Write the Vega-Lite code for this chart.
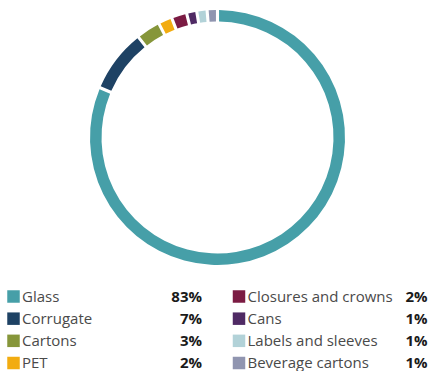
{
  "$schema": "https://vega.github.io/schema/vega-lite/v6.json",
  "padding": 0,
  "spacing": 0,
  "background": "white",
  "config": {"view": {"stroke": null}, "font": "Open Sans"},
  "datasets": {
    "pack": [
      {"idx": 1, "material": "Glass", "share": 81.4, "pct": "83%", "col": 0, "row": 0},
      {"idx": 2, "material": "Corrugate", "share": 8.0, "pct": "7%", "col": 0, "row": 1},
      {"idx": 3, "material": "Cartons", "share": 3.05, "pct": "3%", "col": 0, "row": 2},
      {"idx": 4, "material": "PET", "share": 1.75, "pct": "2%", "col": 0, "row": 3},
      {"idx": 5, "material": "Closures and crowns", "share": 1.94, "pct": "2%", "col": 1, "row": 0},
      {"idx": 6, "material": "Cans", "share": 1.28, "pct": "1%", "col": 1, "row": 1},
      {"idx": 7, "material": "Labels and sleeves", "share": 1.3, "pct": "1%", "col": 1, "row": 2},
      {"idx": 8, "material": "Beverage cartons", "share": 1.3, "pct": "1%", "col": 1, "row": 3}
    ]
  },
  "vconcat": [
    {
      "width": 435,
      "height": 275,
      "data": {"name": "pack"},
      "mark": {"type": "arc", "radius": 127.5, "radius2": 116, "padAngle": 0.018},
      "encoding": {
        "theta": {"field": "share", "type": "quantitative", "stack": true},
        "order": {"field": "idx", "type": "quantitative"},
        "color": {
          "field": "material",
          "type": "nominal",
          "legend": null,
          "scale": {
            "domain": ["Glass", "Corrugate", "Cartons", "PET", "Closures and crowns", "Cans", "Labels and sleeves", "Beverage cartons"],
            "range": ["#469fa8", "#1e4264", "#86963a", "#f2ac10", "#7b1b43", "#4f2a64", "#b2d2d8", "#9095b0"]
          }
        }
      }
    },
    {
      "width": 428,
      "height": 96,
      "data": {"name": "pack"},
      "encoding": {
        "x": {"field": "col", "type": "ordinal", "axis": null, "scale": {"type": "point", "padding": 0, "range": [13.5, 239]}},
        "y": {"field": "row", "type": "ordinal", "axis": null, "scale": {"type": "point", "padding": 0, "range": [21.5, 88]}}
      },
      "layer": [
        {
          "mark": {"type": "square", "size": 156, "opacity": 1},
          "encoding": {
            "color": {
              "field": "material",
              "type": "nominal",
              "legend": null,
              "scale": {
                "domain": ["Glass", "Corrugate", "Cartons", "PET", "Closures and crowns", "Cans", "Labels and sleeves", "Beverage cartons"],
                "range": ["#469fa8", "#1e4264", "#86963a", "#f2ac10", "#7b1b43", "#4f2a64", "#b2d2d8", "#9095b0"]
              }
            }
          }
        },
        {
          "mark": {"type": "text", "align": "left", "baseline": "middle", "dx": 8.5, "fontSize": 15, "color": "#4a4a4a"},
          "encoding": {"text": {"field": "material"}}
        },
        {
          "mark": {"type": "text", "align": "right", "baseline": "middle", "dx": 188.5, "fontSize": 15, "fontWeight": "bold", "color": "#1a1a1a"},
          "encoding": {"text": {"field": "pct"}}
        }
      ]
    }
  ]
}
